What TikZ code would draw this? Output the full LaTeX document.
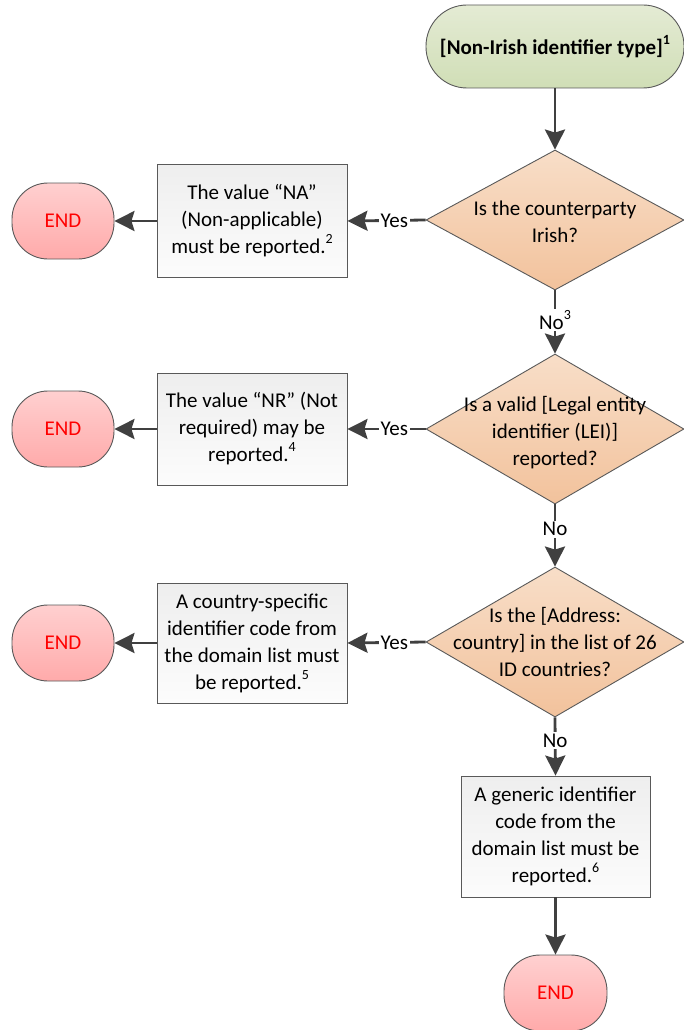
\documentclass[tikz,border=0pt]{standalone}
\usepackage{fontspec}
\setmainfont{Carlito}
\usetikzlibrary{arrows.meta,shapes.geometric}

\definecolor{linegray}{RGB}{89,89,89}
\definecolor{arrowgray}{RGB}{64,64,64}
\definecolor{startTop}{RGB}{228,235,212}
\definecolor{startBot}{RGB}{208,222,182}
\definecolor{decTop}{RGB}{248,222,200}
\definecolor{decBot}{RGB}{242,194,156}
\definecolor{boxTop}{RGB}{238,238,238}
\definecolor{boxBot}{RGB}{252,252,252}
\definecolor{endTop}{RGB}{255,208,208}
\definecolor{endBot}{RGB}{255,170,170}
\definecolor{endText}{RGB}{255,0,0}

% raised footnote marker
\newcommand\fnmark[1]{\raisebox{10pt}{\fontsize{14}{14}\selectfont #1}}

\tikzset{
  txt/.style={font=\fontsize{21}{27}\selectfont, align=center},
  base/.style={txt, inner sep=0pt, draw=linegray, line width=0.9pt},
  startbox/.style={base, rounded corners=41pt, minimum width=258pt, minimum height=83pt,
    top color=startTop, bottom color=startBot},
  decision/.style={shape=diamond, draw=linegray, line width=0.9pt, inner sep=0pt,
    minimum width=258pt, top color=decTop, bottom color=decBot},
  actionbox/.style={base, rectangle, minimum width=190pt, top color=boxTop, bottom color=boxBot},
  endbox/.style={base, rounded corners=36pt, minimum width=102pt, minimum height=76pt,
    top color=endTop, bottom color=endBot, text=endText},
  flow/.style={draw=arrowgray, line width=2.8pt, -{Stealth[length=20pt,width=20pt,inset=3pt]}},
  answer/.style={txt, fill=white, inner sep=1.5pt},
}

\begin{document}
\begin{tikzpicture}[x=1pt, y=-1pt]
\useasboundingbox (0,0) rectangle (684,1030);

% start terminal
\node[startbox] (start) at (555,46.5) {\textbf{[Non-Irish identifier type]\fnmark{\textbf{1}}}};

% decisions (shape first, wording laid on top)
\node[decision, minimum height=140pt] (d1) at (555,220) {};
\node[txt] (d1t) at ([yshift=-1.5pt]d1.center) {Is the counterparty\\Irish?};
\node[decision, minimum height=150pt] (d2) at (555,429) {};
\node[txt] (d2t) at ([yshift=-4pt]d2.center) {Is a valid [Legal entity\\identifier (LEI)]\\reported?};
\node[decision, minimum height=150pt] (d3) at (555,642) {};
\node[txt] (d3t) at (d3) {Is the [Address:\\country] in the list of 26\\ID countries?};

% actions
\node[actionbox, minimum height=113pt] (b1) at (252,221)
  {The value “NA”\\(Non-applicable)\\must be reported.\fnmark{2}};
\node[actionbox, minimum height=112pt] (b2) at (252,429)
  {The value “NR” (Not\\required) may be\\reported.\fnmark{4}};
\node[actionbox, minimum height=120pt] (b3) at (252,643)
  {A country-specific\\identifier code from\\the domain list must\\be reported.\fnmark{5}};
\node[actionbox, minimum height=121pt, minimum width=189pt] (b4) at (555.5,836.5)
  {A generic identifier\\code from the\\domain list must be\\reported.\fnmark{6}};

% end terminals
\node[endbox] (e1) at (63,221) {END};
\node[endbox] (e2) at (63,429) {END};
\node[endbox] (e3) at (63,643) {END};
\node[endbox, minimum width=103pt] (e4) at (555.5,993) {END};

% main flow
\draw[flow] (start.south) -- (d1.north);
\draw[flow] (d1.south) -- node[answer, pos=0.47] {No\fnmark{3}} (d2.north);
\draw[flow] (d2.south) -- node[answer, pos=0.4] {No} (d3.north);
\draw[flow] (d3.south) -- node[answer, pos=0.4] {No} (b4.north);
\draw[flow] (b4.south) -- (e4.north);

% yes branches
\draw[flow] (d1.west) -- node[answer, pos=0.4] {Yes} (b1.east);
\draw[flow] (d2.west) -- node[answer, pos=0.4] {Yes} (b2.east);
\draw[flow] (d3.west) -- node[answer, pos=0.4] {Yes} (b3.east);

\draw[flow] (b1.west) -- (e1.east);
\draw[flow] (b2.west) -- (e2.east);
\draw[flow] (b3.west) -- (e3.east);
\end{tikzpicture}
\end{document}
